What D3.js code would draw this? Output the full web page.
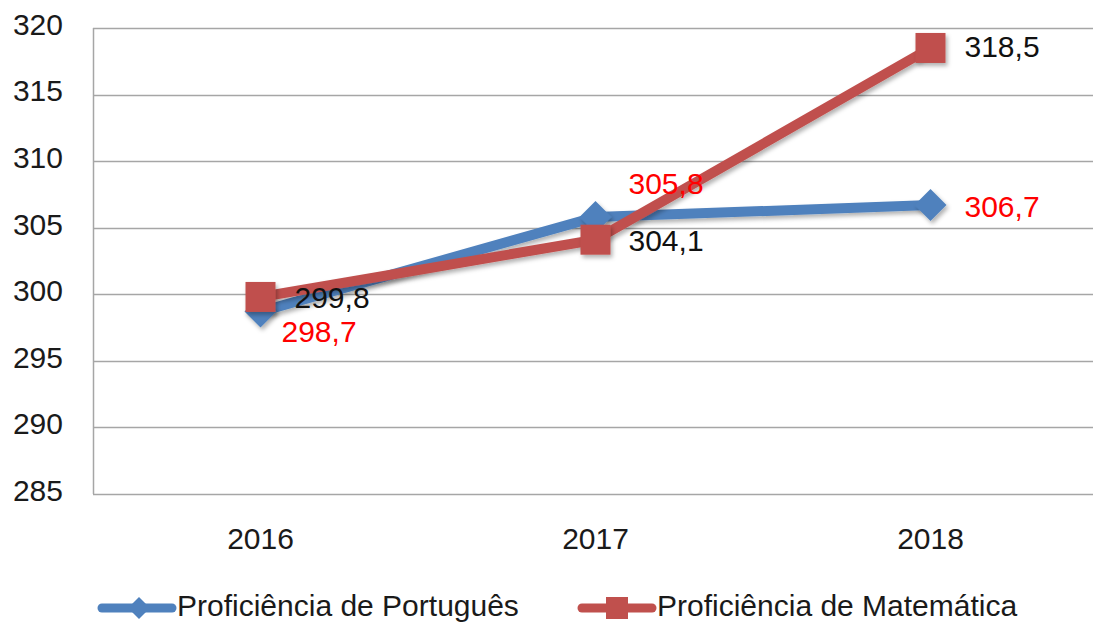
<!DOCTYPE html>
<html>
<head>
<meta charset="utf-8">
<script src="https://cdn.jsdelivr.net/npm/d3@7"></script>
<style>
html,body{margin:0;padding:0;background:#fff;}
svg{display:block;font-family:"Liberation Sans",Arial,sans-serif;}
</style>
</head>
<body>
<svg id="chart" width="1096" height="624"></svg>
<script>
const years = ["2016", "2017", "2018"];
const portugues = [298.7, 305.8, 306.7];
const matematica = [299.8, 304.1, 318.5];
const yTicks = [285, 290, 295, 300, 305, 310, 315, 320];
const seriesNames = ["Proficiência de Português", "Proficiência de Matemática"];
const labelPortugues = ["298,7", "305,8", "306,7"];
const labelMatematica = ["299,8", "304,1", "318,5"];

(function () {
const svg = d3.select("#chart");
const pLeft = 93, pRight = 1098, pTop = 28, pBottom = 494;
const x = d3.scalePoint().domain(years).range([pLeft, pRight]).padding(0.5);
const y = d3.scaleLinear().domain([285, 320]).range([pBottom, pTop]);

const defs = svg.append("defs");
const f = defs.append("filter").attr("id", "sh").attr("x", "-30%").attr("y", "-30%").attr("width", "170%").attr("height", "170%");
f.append("feDropShadow").attr("dx", 2).attr("dy", 3).attr("stdDeviation", 2).attr("flood-color", "#000").attr("flood-opacity", 0.3);

// grid
svg.append("g").selectAll("line").data(yTicks).join("line")
  .attr("x1", pLeft).attr("x2", 1093)
  .attr("y1", d => Math.round(y(d)) + 0.5).attr("y2", d => Math.round(y(d)) + 0.5)
  .attr("stroke", "#a6a6a6").attr("stroke-width", 1.5);
svg.append("line").attr("x1", pLeft + 0.5).attr("x2", pLeft + 0.5).attr("y1", y(320)).attr("y2", y(285))
  .attr("stroke", "#a6a6a6").attr("stroke-width", 1.5);

// y tick labels
svg.append("g").selectAll("text").data(yTicks).join("text")
  .attr("x", 63).attr("y", d => y(d) - 1)
  .attr("text-anchor", "end").attr("dominant-baseline", "middle")
  .attr("font-size", 30).attr("fill", "#1a1a1a").text(d => d);

// x labels
svg.append("g").selectAll("text").data(years).join("text")
  .attr("x", d => x(d)).attr("y", 541)
  .attr("text-anchor", "middle").attr("dominant-baseline", "middle")
  .attr("font-size", 30).attr("fill", "#1a1a1a").text(d => d);

const blue = "#4f81bd", red = "#c0504d";
const line = d3.line().x((d, i) => x(years[i])).y(d => y(d));

// blue series
svg.append("path").datum(portugues).attr("d", line).attr("fill", "none")
  .attr("stroke", blue).attr("stroke-width", 10).attr("stroke-linejoin", "round").attr("filter", "url(#sh)");
const diamond = (cx, cy, r) => `M${cx},${cy - r}L${cx + r},${cy}L${cx},${cy + r}L${cx - r},${cy}Z`;
svg.append("g").selectAll("path").data(portugues).join("path")
  .attr("d", (d, i) => diamond(x(years[i]), y(d), 16))
  .attr("fill", blue).attr("filter", "url(#sh)");

// red series
svg.append("path").datum(matematica).attr("d", line).attr("fill", "none")
  .attr("stroke", red).attr("stroke-width", 10).attr("stroke-linejoin", "round").attr("filter", "url(#sh)");
svg.append("g").selectAll("rect").data(matematica).join("rect")
  .attr("x", (d, i) => x(years[i]) - 15).attr("y", d => y(d) - 15)
  .attr("width", 30).attr("height", 30)
  .attr("fill", red).attr("filter", "url(#sh)");

// labels
const pOff = [[21, 22], [33, -31], [34, 4]];
svg.append("g").selectAll("text").data(portugues).join("text")
  .attr("x", (d, i) => x(years[i]) + pOff[i][0]).attr("y", (d, i) => y(d) + pOff[i][1])
  .attr("dominant-baseline", "middle").attr("font-size", 30).attr("fill", "#ff0000")
  .text((d, i) => labelPortugues[i]);
const mOff = [[34, 3], [33, 3], [34, 1]];
svg.append("g").selectAll("text").data(matematica).join("text")
  .attr("x", (d, i) => x(years[i]) + mOff[i][0]).attr("y", (d, i) => y(d) + mOff[i][1])
  .attr("dominant-baseline", "middle").attr("font-size", 30).attr("fill", "#111")
  .text((d, i) => labelMatematica[i]);

// legend
const leg = [
  {name: seriesNames[0], color: blue, x: 102, type: "d"},
  {name: seriesNames[1], color: red, x: 582, type: "s"}
];
const ly = 608;
leg.forEach(l => {
  const g = svg.append("g");
  g.append("line").attr("x1", l.x).attr("x2", l.x + 70).attr("y1", ly).attr("y2", ly)
    .attr("stroke", l.color).attr("stroke-width", 9).attr("stroke-linecap", "round");
  if (l.type === "d") g.append("path").attr("d", diamond(l.x + 37, ly, 11)).attr("fill", l.color);
  else g.append("rect").attr("x", l.x + 24).attr("y", ly - 11).attr("width", 22).attr("height", 22).attr("fill", l.color);
  g.append("text").attr("x", l.x + 75).attr("y", ly).attr("dominant-baseline", "middle")
    .attr("font-size", 30).attr("fill", "#1a1a1a").text(l.name);
});
})();
</script>
</body>
</html>
